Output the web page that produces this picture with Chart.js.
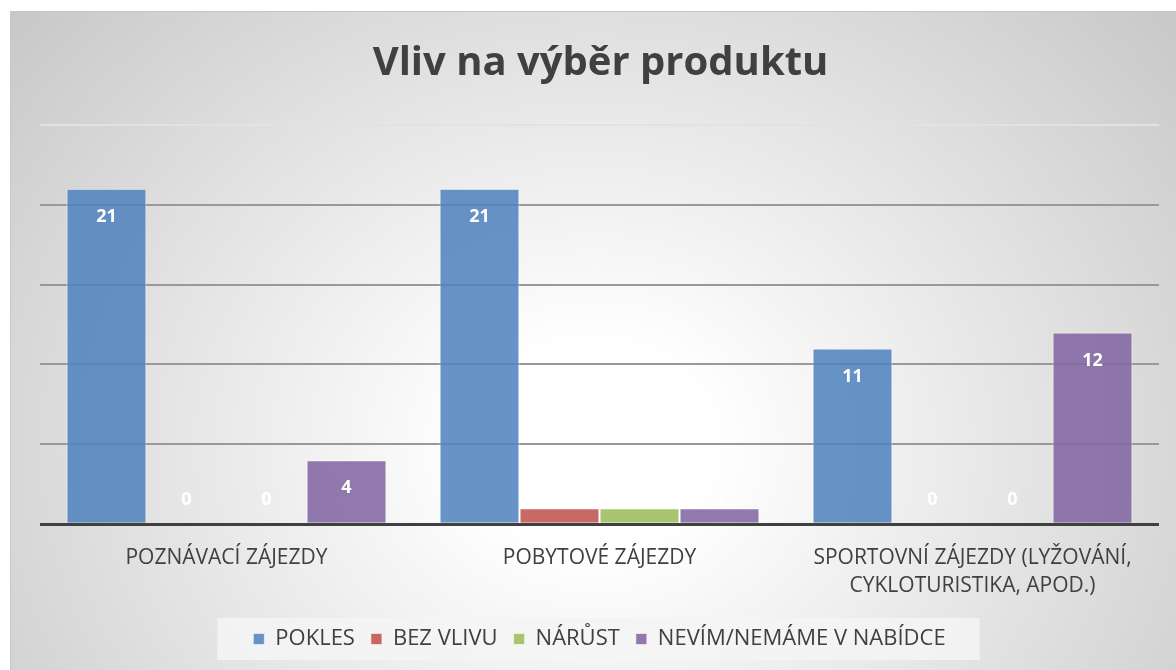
<!DOCTYPE html>
<html lang="cs">
<head>
<meta charset="utf-8">
<title>Vliv na výběr produktu</title>
<script src="https://cdn.jsdelivr.net/npm/chart.js@4"></script>
<style>
  html, body { margin: 0; padding: 0; background: #fff; }
  .frame {
    position: absolute; left: 10px; top: 11px; width: 1166px; height: 659px;
    border-top: 1px solid #c8c8c8; border-left: 1px solid #c8c8c8; box-sizing: border-box;
    background: radial-gradient(ellipse 72% 110% at 50% 66%, #ffffff 0%, #ffffff 14%, #c2c2c2 100%);
  }
  canvas { display: block; }
</style>
</head>
<body>
<div class="frame"><canvas id="chart" width="1165" height="658"></canvas></div>
<script>
// ─── Data ─────────────────────────────────────────────
const categories = [
  'POZNÁVACÍ ZÁJEZDY',
  'POBYTOVÉ ZÁJEZDY',
  ['SPORTOVNÍ ZÁJEZDY (LYŽOVÁNÍ,', 'CYKLOTURISTIKA, APOD.)']
];
const seriesNames = ['POKLES', 'BEZ VLIVU', 'NÁRŮST', 'NEVÍM/NEMÁME V NABÍDCE'];
const pokles   = [21, 21, 11];
const bezVlivu = [0, 1, 0];
const narust   = [0, 1, 0];
const nevim    = [4, 1, 12];
const yTicks   = [0, 5, 10, 15, 20, 25];

const COLORS = [
  'rgba(79,129,189,0.86)',
  'rgba(192,80,77,0.86)',
  'rgba(155,187,89,0.86)',
  'rgba(128,100,162,0.86)'
];
const FONT = "'Open Sans', sans-serif";
const TEXT = '#404040';

// ─── Plugins ──────────────────────────────────────────
// title drawn by hand so the plot area position stays fixed
const titlePlugin = {
  id: 'titleText',
  afterDraw(chart) {
    const { ctx } = chart;
    ctx.save();
    ctx.font = `bold 40px ${FONT}`;
    ctx.fillStyle = TEXT;
    ctx.textAlign = 'center';
    ctx.textBaseline = 'middle';
    ctx.fillText('Vliv na výběr produktu', chart.width / 2 + 7, 52);
    ctx.restore();
  }
};

// white value labels, inside end of the bar
const valuePlugin = {
  id: 'valueLabels',
  afterDatasetsDraw(chart) {
    const { ctx } = chart;
    const base = chart.scales.y.getPixelForValue(0);
    ctx.save();
    ctx.font = `bold 18px ${FONT}`;
    ctx.fillStyle = '#ffffff';
    ctx.textAlign = 'center';
    ctx.textBaseline = 'middle';
    chart.data.datasets.forEach((ds, di) => {
      chart.getDatasetMeta(di).data.forEach((bar, i) => {
        const y = Math.min(bar.y + 28, base - 24);
        ctx.fillText(String(ds.data[i]), bar.x, y);
      });
    });
    ctx.restore();
  }
};

// light box behind the legend
const legendBoxPlugin = {
  id: 'legendBox',
  beforeDraw(chart) {
    const boxes = chart.legend && chart.legend.legendHitBoxes;
    if (!boxes || !boxes.length) return;
    const { ctx } = chart;
    const l = Math.min(...boxes.map(b => b.left)) - 36;
    const r = Math.max(...boxes.map(b => b.left + b.width)) + 34;
    const t = Math.min(...boxes.map(b => b.top)) - 10;
    const h = Math.max(...boxes.map(b => b.top + b.height)) + 10 - t;
    ctx.save();
    ctx.fillStyle = 'rgba(244,244,244,0.85)';
    ctx.fillRect(l, t, r - l, h);
    ctx.restore();
  }
};

// ─── Chart ────────────────────────────────────────────
const seriesData = [pokles, bezVlivu, narust, nevim];

new Chart(document.getElementById('chart'), {
  type: 'bar',
  data: {
    labels: categories,
    datasets: seriesNames.map((name, i) => ({
      label: name,
      data: seriesData[i],
      backgroundColor: COLORS[i],
      borderColor: 'rgba(255,255,255,0.55)',
      borderWidth: 1,
      categoryPercentage: 0.858,
      barPercentage: 1.0
    }))
  },
  options: {
    responsive: false,
    animation: false,
    layout: { padding: { left: 29, right: 17, top: 113, bottom: 10 } },
    plugins: {
      legend: {
        position: 'bottom',
        labels: {
          color: TEXT,
          font: { family: FONT, size: 22 },
          boxWidth: 11,
          boxHeight: 11,
          padding: 16
        }
      },
      tooltip: { enabled: false }
    },
    scales: {
      x: {
        grid: { display: false },
        border: { display: false },
        ticks: {
          color: TEXT,
          font: { family: FONT, size: 21, lineHeight: 1.33 },
          maxRotation: 0,
          padding: 12
        }
      },
      y: {
        min: 0,
        max: 25,
        afterBuildTicks: axis => { axis.ticks = yTicks.map(v => ({ value: v })); },
        ticks: { display: false },
        border: { display: false },
        grid: {
          drawTicks: false,
          color: c => c.tick.value === 0 ? '#404040' : (c.tick.value === 25 ? '#e2e2e2' : '#999999'),
          lineWidth: c => c.tick.value === 0 ? 3 : 2
        }
      }
    }
  },
  plugins: [legendBoxPlugin, valuePlugin, titlePlugin]
});
</script>
</body>
</html>
